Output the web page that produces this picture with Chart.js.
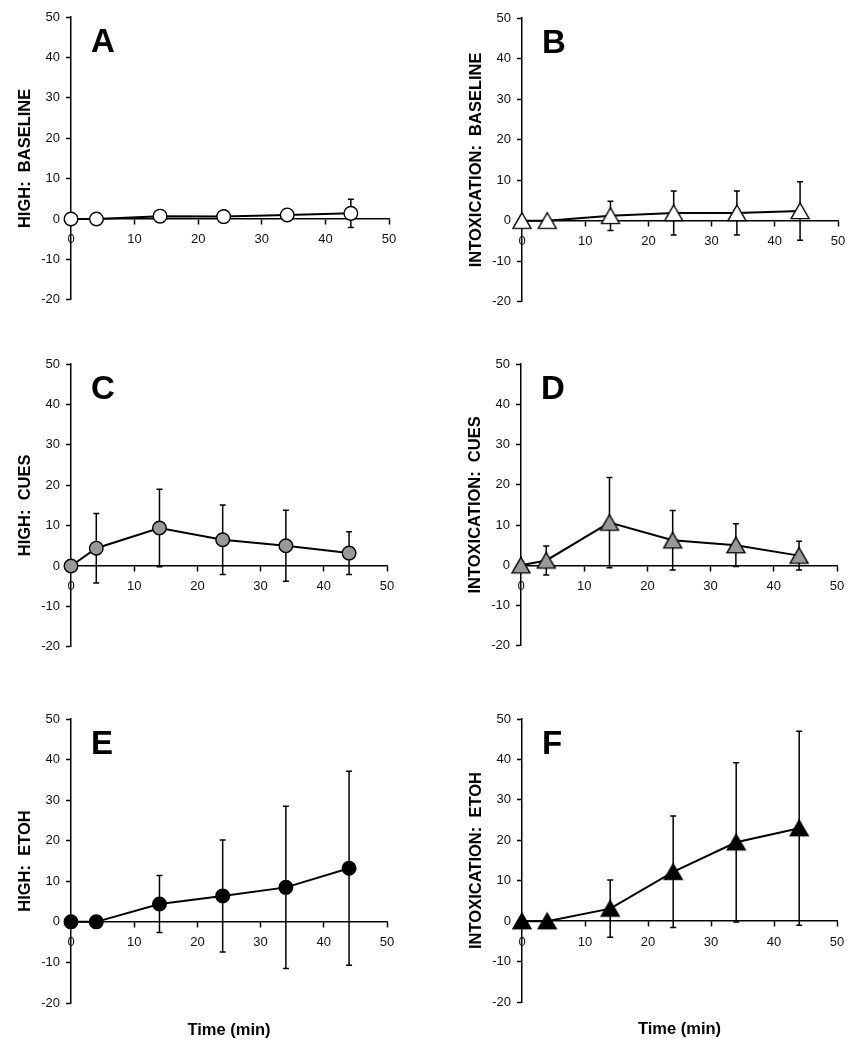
<!DOCTYPE html>
<html>
<head>
<meta charset="utf-8">
<script src="https://cdn.jsdelivr.net/npm/chart.js@4.4.1/dist/chart.umd.min.js"></script>
<style>
  body { margin: 0; background: #fff; }
  #wrap { position: relative; width: 867px; height: 1050px; overflow: hidden; }
  #wrap canvas { position: absolute; }
</style>
</head>
<body>
<div id="wrap"></div>
<script>
// time points (min) and axis ticks
const times = [0, 4, 14, 24, 34, 44];
const xTicks = [0, 10, 20, 30, 40, 50];
const yTicks = [-20, -10, 0, 10, 20, 30, 40, 50];

// means and error bars
const highBaseline = [0, 0, 0.7, 0.6, 1.0, 1.4];
const highBaselineErr = [0, 0, 1.5, 1.2, 1.5, 3.5];
const intoxBaseline = [0, 0, 1.2, 1.9, 1.9, 2.4];
const intoxBaselineErr = [0, 0, 3.6, 5.4, 5.4, 7.2];
const highCues = [0, 4.4, 9.4, 6.5, 5.0, 3.2];
const highCuesErr = [0, 8.6, 9.6, 8.6, 8.8, 5.3];
const intoxCues = [0, 1.2, 10.6, 6.2, 5.0, 2.4];
const intoxCuesErr = [0, 3.6, 11.2, 7.4, 5.3, 3.6];
const highEtoh = [0, 0, 4.4, 6.4, 8.5, 13.2];
const highEtohErr = [0, 0, 7.0, 13.8, 20.0, 23.9];
const intoxEtoh = [0, 0, 3.1, 12.2, 19.5, 23.0];
const intoxEtohErr = [0, 0, 7.1, 13.8, 19.7, 24.0];

// labels
const panelLetters = ['A', 'B', 'C', 'D', 'E', 'F'];
const yTitles = ['HIGH:  BASELINE', 'INTOXICATION:  BASELINE', 'HIGH:  CUES',
                 'INTOXICATION:  CUES', 'HIGH:  ETOH', 'INTOXICATION:  ETOH'];
const xTitle = 'Time (min)';

const fontFamily = "'Liberation Sans', Arial, sans-serif";
Chart.defaults.font.family = fontFamily;
Chart.defaults.color = '#000';

// where each plot area sits on the page
const areas = [
    { left: 71, right: 389, top: 17, bottom: 300 },
    { left: 522, right: 838, top: 18, bottom: 302 },
    { left: 71, right: 387, top: 364, bottom: 647 },
    { left: 521, right: 837, top: 364, bottom: 646 },
    { left: 71, right: 387, top: 719, bottom: 1003 },
    { left: 522, right: 837, top: 719, bottom: 1002 }
];

// triangle marker centred on its bounding box (like the original)
function makeTriangle(fill) {
    const c = document.createElement('canvas');
    c.width = 22;
    c.height = 20;
    const ctx = c.getContext('2d');
    ctx.beginPath();
    ctx.moveTo(11, 2);
    ctx.lineTo(20, 17.6);
    ctx.lineTo(2, 17.6);
    ctx.closePath();
    ctx.fillStyle = fill;
    ctx.fill();
    ctx.lineWidth = 1.4;
    ctx.strokeStyle = '#000';
    ctx.stroke();
    return c;
}

// draws the vertical error bars under the markers
const errorBarPlugin = {
    id: 'errorBars',
    beforeDatasetsDraw(chart) {
        const ctx = chart.ctx;
        const xs = chart.scales.x;
        const ys = chart.scales.y;
        ctx.save();
        ctx.strokeStyle = '#000';
        ctx.lineWidth = 1.5;
        chart.data.datasets.forEach(ds => {
            ds.data.forEach((p, i) => {
                const e = ds.errors[i];
                if (!e) return;
                const px = xs.getPixelForValue(p.x);
                const top = ys.getPixelForValue(p.y + e);
                const bot = ys.getPixelForValue(p.y - e);
                ctx.beginPath();
                ctx.moveTo(px, top);
                ctx.lineTo(px, bot);
                ctx.moveTo(px - 3, top);
                ctx.lineTo(px + 3, top);
                ctx.moveTo(px - 3, bot);
                ctx.lineTo(px + 3, bot);
                ctx.stroke();
            });
        });
        ctx.restore();
    }
};

// big panel letter in the top-left corner
const letterPlugin = {
    id: 'panelLetter',
    afterDraw(chart, args, opts) {
        const ctx = chart.ctx;
        const a = chart.chartArea;
        ctx.save();
        ctx.font = 'bold 33px ' + fontFamily;
        ctx.fillStyle = '#000';
        ctx.textBaseline = 'alphabetic';
        ctx.textAlign = 'left';
        ctx.fillText(opts.text, a.left + 20, a.top + 35);
        ctx.restore();
    }
};

function axisLines() {
    return {
        grid: { display: true, drawOnChartArea: false, drawTicks: true, tickLength: 5, tickColor: '#000', tickWidth: 1.5 },
        border: { display: true, color: '#000', width: 1.5 }
    };
}

function initPanel(index, values, errors, fill, shape) {
    const area = areas[index];
    const hasXTitle = index >= 4;
    const padTop = 12, padRight = 25, padBottom = hasXTitle ? 5 : 8, yWidth = 60, titleHeight = 40;

    const canvas = document.createElement('canvas');
    const w = area.right - area.left + yWidth + padRight;
    const h = area.bottom - area.top + padTop + padBottom + (hasXTitle ? titleHeight : 0);
    canvas.width = w;
    canvas.height = h;
    canvas.style.width = w + 'px';
    canvas.style.height = h + 'px';
    canvas.style.left = (area.left - yWidth) + 'px';
    canvas.style.top = (area.top - padTop) + 'px';
    document.getElementById('wrap').appendChild(canvas);

    const scales = {
        x: Object.assign({
            type: 'linear', axis: 'x', position: { y: 0 }, min: 0, max: 50,
            afterBuildTicks: s => { s.ticks = xTicks.map(v => ({ value: v })); },
            afterFit: s => { s.height = 0; s.paddingLeft = 0; s.paddingRight = 0; },
            ticks: { color: '#111', font: { size: 13 }, padding: 8, maxRotation: 0, autoSkip: false }
        }, axisLines()),
        y: Object.assign({
            type: 'linear', position: 'left', min: -20, max: 50,
            afterBuildTicks: s => { s.ticks = yTicks.map(v => ({ value: v })); },
            afterFit: s => { s.width = yWidth; s.paddingTop = 0; s.paddingBottom = 0; },
            ticks: { color: '#111', font: { size: 13 }, padding: 6, autoSkip: false },
            title: { display: true, text: yTitles[index], color: '#000',
                     font: { size: 16.5, weight: 'bold' }, padding: { top: 5, bottom: 0 } }
        }, axisLines())
    };
    if (hasXTitle) {
        scales.xt = {
            type: 'linear', axis: 'x', position: 'bottom', min: 0, max: 50,
            ticks: { display: false }, grid: { display: false }, border: { display: false },
            afterFit: s => { s.height = titleHeight; s.paddingLeft = 0; s.paddingRight = 0; },
            title: { display: true, text: xTitle, color: '#000',
                     font: { size: 16.5, weight: 'bold' }, padding: { top: 0, bottom: 3 } }
        };
    }

    return new Chart(canvas.getContext('2d'), {
        type: 'line',
        data: {
            datasets: [{
                data: times.map((t, i) => ({ x: t, y: values[i] })),
                errors: errors,
                xAxisID: 'x',
                yAxisID: 'y',
                borderColor: '#000',
                borderWidth: 2,
                tension: 0,
                fill: false,
                clip: false,
                pointStyle: shape === 'triangle' ? makeTriangle(fill) : 'circle',
                pointRadius: 6.8,
                pointBackgroundColor: fill,
                pointBorderColor: '#000',
                pointBorderWidth: 1.4
            }]
        },
        options: {
            responsive: false,
            animation: false,
            events: [],
            layout: { padding: { left: 0, top: padTop, right: padRight, bottom: padBottom } },
            scales: scales,
            plugins: {
                legend: { display: false },
                tooltip: { enabled: false },
                panelLetter: { text: panelLetters[index] }
            }
        },
        plugins: [errorBarPlugin, letterPlugin]
    });
}

window.onload = function() {
    initPanel(0, highBaseline, highBaselineErr, '#ffffff', 'circle');
    initPanel(1, intoxBaseline, intoxBaselineErr, '#ffffff', 'triangle');
    initPanel(2, highCues, highCuesErr, '#999999', 'circle');
    initPanel(3, intoxCues, intoxCuesErr, '#999999', 'triangle');
    initPanel(4, highEtoh, highEtohErr, '#000000', 'circle');
    initPanel(5, intoxEtoh, intoxEtohErr, '#000000', 'triangle');
};
</script>
</body>
</html>
